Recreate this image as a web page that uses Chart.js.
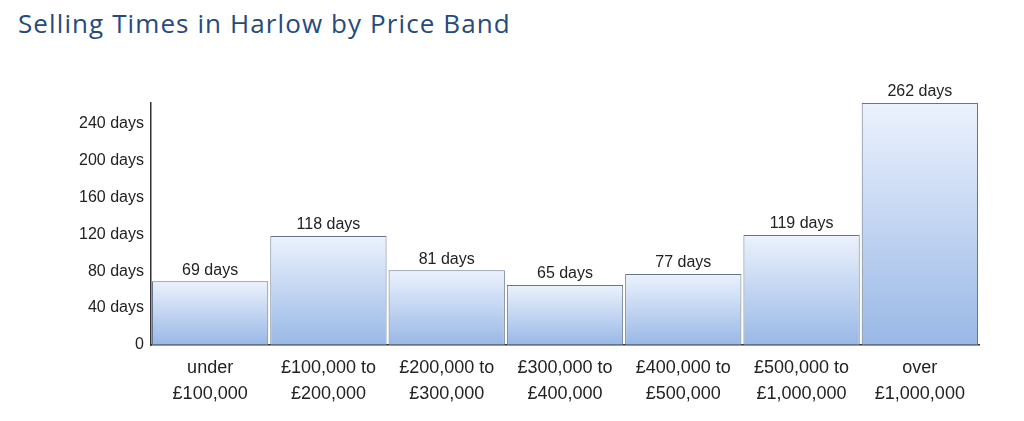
<!DOCTYPE html>
<html>
<head>
<meta charset="utf-8">
<title>Selling Times in Harlow by Price Band</title>
<script src="https://cdn.jsdelivr.net/npm/chart.js@4.4.1/dist/chart.umd.min.js"></script>
<style>
  html, body { margin: 0; padding: 0; background: #fff; overflow: hidden; }
  #wrap { position: relative; width: 1024px; height: 421px; }
  #title {
    position: absolute; left: 18px; top: 6px; margin: 0;
    font-family: "Open Sans", sans-serif; font-weight: 500; font-size: 26px;
    line-height: 34px; color: #264a7b; letter-spacing: 1.1px;
  }
  canvas { position: absolute; left: 0; top: 0; }
</style>
</head>
<body>
<div id="wrap">
  <h2 id="title">Selling Times in Harlow by Price Band</h2>
  <canvas id="salesChart" width="1024" height="421"></canvas>
</div>
<script>
// price bands (two-line labels) and average days to sell
const priceBands = [
  ["under", "£100,000"],
  ["£100,000 to", "£200,000"],
  ["£200,000 to", "£300,000"],
  ["£300,000 to", "£400,000"],
  ["£400,000 to", "£500,000"],
  ["£500,000 to", "£1,000,000"],
  ["over", "£1,000,000"]
];
const sellingDays = [69, 118, 81, 65, 77, 119, 262];
const yTicks = [0, 40, 80, 120, 160, 200, 240];
const yMax = 262;

const textFont = "'Liberation Sans', Arial, sans-serif";

// value labels above each bar
const barLabels = {
  id: "barLabels",
  afterDatasetsDraw(chart) {
    const ctx = chart.ctx;
    const meta = chart.getDatasetMeta(0);
    ctx.save();
    ctx.font = "16px " + textFont;
    ctx.fillStyle = "#222";
    ctx.textAlign = "center";
    ctx.textBaseline = "bottom";
    meta.data.forEach((bar, i) => {
      ctx.fillText(sellingDays[i] + " days", bar.x, bar.y - 3);
    });
    ctx.restore();
  }
};

function barGradient(context) {
  const chart = context.chart;
  if (!chart.chartArea) return "#c4d8f4";
  const yScale = chart.scales.y;
  const top = yScale.getPixelForValue(context.raw);
  const bottom = yScale.getPixelForValue(0);
  const g = chart.ctx.createLinearGradient(0, top, 0, bottom);
  g.addColorStop(0, "#ecf2fd");
  g.addColorStop(1, "#99b8e6");
  return g;
}

new Chart(document.getElementById("salesChart"), {
  type: "bar",
  data: {
    labels: priceBands,
    datasets: [{
      data: sellingDays,
      backgroundColor: barGradient,
      borderColor: "#66768a",
      borderWidth: 1,
      borderSkipped: false,
      barPercentage: 0.983,
      categoryPercentage: 1
    }]
  },
  options: {
    responsive: false,
    animation: false,
    layout: { padding: { top: 103, right: 45, left: 0, bottom: 0 } },
    plugins: {
      legend: { display: false },
      tooltip: { enabled: false }
    },
    scales: {
      x: {
        grid: { display: false, drawTicks: false },
        border: { display: true, color: "#333", width: 1.5 },
        ticks: {
          color: "#222",
          font: { family: textFont, size: 18, lineHeight: 1.45 },
          padding: 10,
          maxRotation: 0,
          autoSkip: false
        },
        afterFit(scale) { scale.height = 76; }
      },
      y: {
        min: 0,
        max: yMax,
        grid: { display: false, drawTicks: false },
        border: { display: true, color: "#333", width: 1.5 },
        ticks: {
          color: "#222",
          font: { family: textFont, size: 16 },
          padding: 7,
          callback: (v) => v === 0 ? "0" : v + " days"
        },
        afterBuildTicks(scale) {
          scale.ticks = yTicks.map((v) => ({ value: v }));
        },
        afterFit(scale) { scale.width = 151; }
      }
    }
  },
  plugins: [barLabels]
});
</script>
</body>
</html>
